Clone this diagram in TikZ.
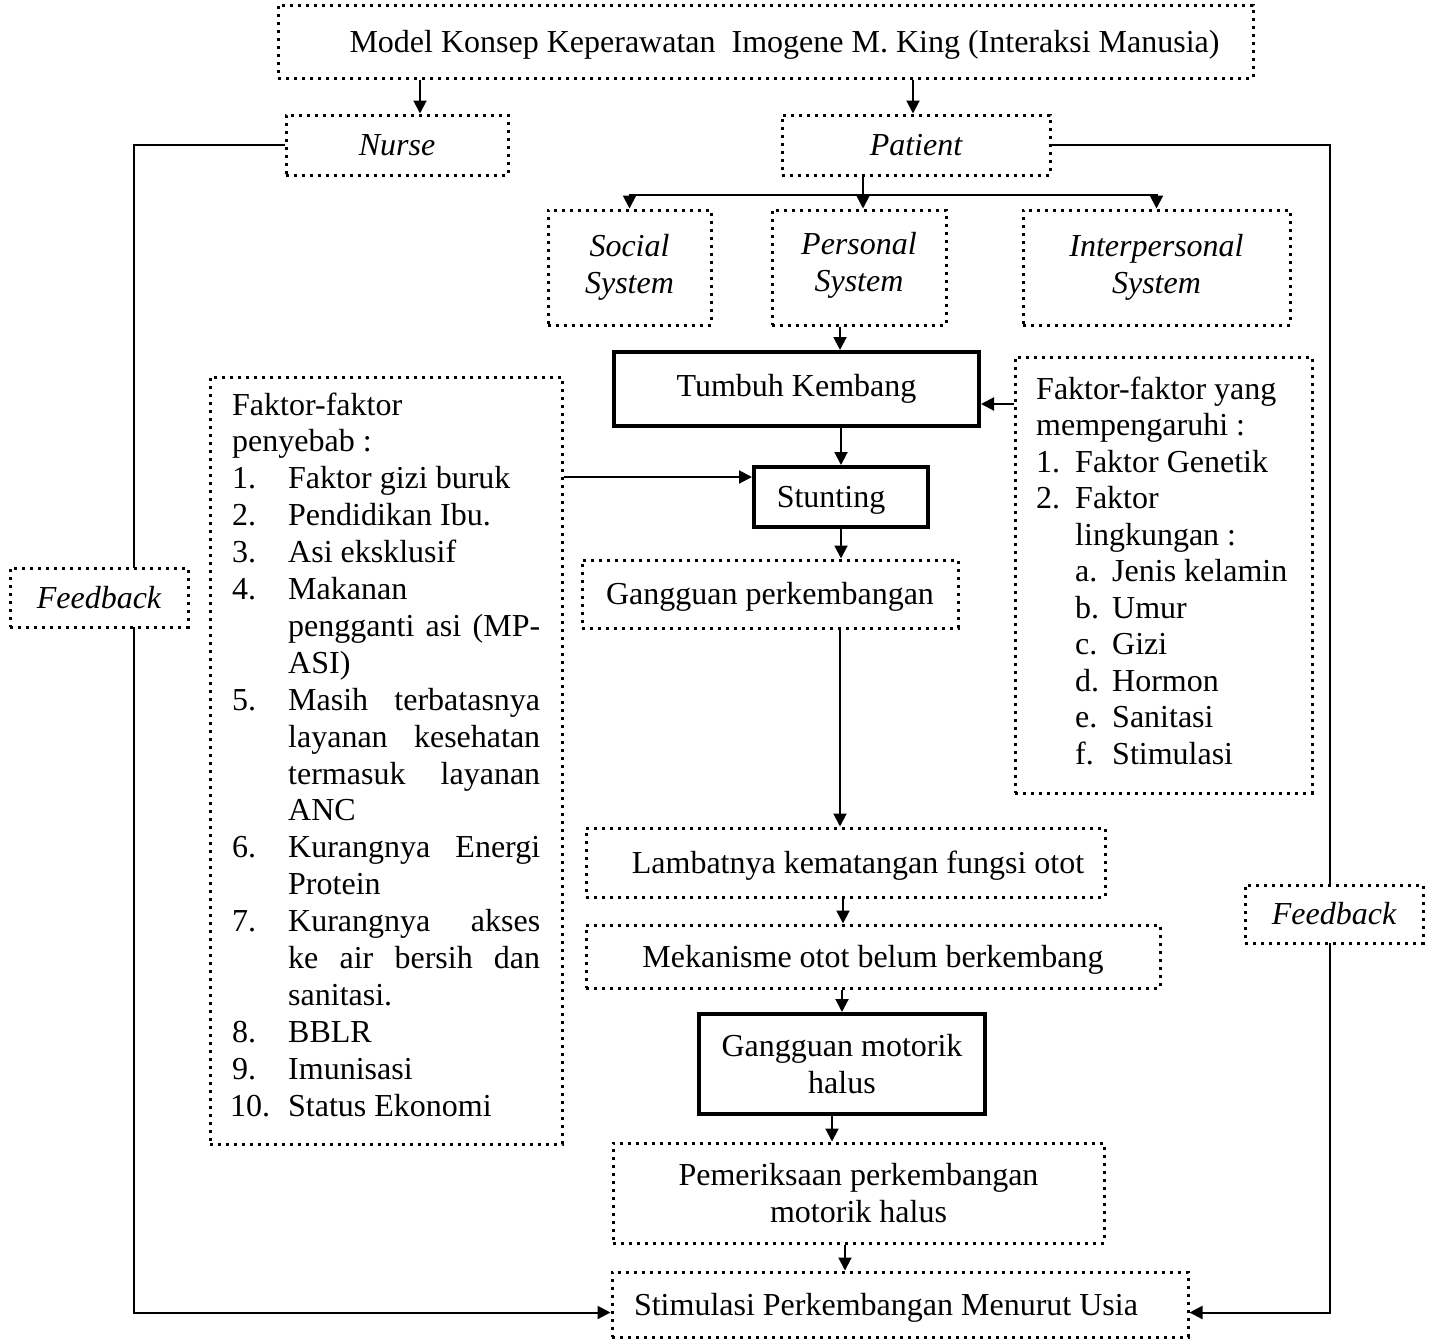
\documentclass[tikz,border=0pt]{standalone}
\usepackage{fontspec}
\setmainfont{Liberation Serif}
\usetikzlibrary{arrows.meta,calc}
\begin{document}
\begin{tikzpicture}[x=1pt,y=1pt,
  txt/.style={font=\fontsize{32}{37}\selectfont, inner sep=0pt},
  dbox/.style={draw, line width=3pt, dash pattern=on 3pt off 5pt, fill=white,
    font=\fontsize{32}{37}\selectfont, inner sep=0pt, align=center,
    text height=25pt, text depth=4pt},
  sbox/.style={draw, line width=4pt, fill=white,
    font=\fontsize{32}{37}\selectfont, inner sep=0pt, align=center,
    text height=25pt, text depth=4pt},
  multi/.style={text height=, text depth=},
  conn/.style={line width=2pt},
  arr/.style={line width=2pt, -{Triangle[length=13pt,width=13pt]}},
  lt/.style={txt, anchor=base west}
]
\useasboundingbox (0,0) rectangle (1432,-1339);

\node[dbox, minimum width=975, minimum height=73] (top) at (765.5,-41.5) {\hspace*{38pt}Model Konsep Keperawatan\ \ Imogene M. King (Interaksi Manusia)};
\node[dbox, minimum width=222, minimum height=60] (nurse) at (397,-145) {\itshape Nurse};
\node[dbox, minimum width=268, minimum height=60] (patient) at (916,-145) {\itshape Patient};
\node[dbox, minimum width=576, minimum height=65] (stim) at (900,-1304.5) {\hspace*{-28pt}Stimulasi Perkembangan Menurut Usia};

\draw[arr] (nurse.west) -- ++(-151,0) |- ([yshift=-8pt]stim.west);
\draw[arr] (patient.east) -- ++(278,0) |- ([yshift=-8pt]stim.east);

\node[dbox, minimum width=178, minimum height=59] (fbl) at (99,-597.5) {\itshape Feedback};
\node[dbox, minimum width=178, minimum height=58] (fbr) at (1334,-914) {\itshape Feedback};

\draw[arr] ([xshift=-345.5pt]top.south) -- ([xshift=23pt]nurse.north);
\draw[arr] ([xshift=147.5pt]top.south) -- ([xshift=-3pt]patient.north);

% systems
\node[dbox, multi, minimum width=163, minimum height=115] (social) at (629.5,-267.5) {\itshape Social\\\itshape System};
\node[dbox, multi, minimum width=174, minimum height=115] (personal) at (859,-267.5) {\itshape Personal\\\itshape System\rule[-12pt]{0pt}{1pt}};
\node[dbox, multi, minimum width=267, minimum height=115] (inter) at (1156.5,-267.5) {\itshape Interpersonal\\\itshape System};

\draw[conn] ([xshift=-53pt]patient.south) -- ++(0,-18) coordinate (pb);
\draw[arr] (pb) -| (social.north);
\draw[arr] (pb) -| (inter.north);
\draw[arr] (pb) -- (pb |- personal.north);

% central chain
\node[sbox, minimum width=365, minimum height=74] (tumbuh) at (796.5,-389) {\raisebox{3pt}{Tumbuh Kembang}};
\node[sbox, minimum width=174, minimum height=60] (stunting) at (841,-497) {\hspace*{-20pt}Stunting};
\node[dbox, minimum width=376, minimum height=68] (gp) at (770,-594) {Gangguan perkembangan};
\node[dbox, minimum width=519, minimum height=69] (lam) at (845.5,-862.5) {\hspace*{25pt}Lambatnya kematangan fungsi otot};
\node[dbox, minimum width=574, minimum height=63] (mek) at (873,-956.5) {Mekanisme otot belum berkembang};
\node[sbox, multi, minimum width=286, minimum height=100] (gm) at (842,-1064) {Gangguan motorik\\halus};
\node[dbox, multi, minimum width=491, minimum height=100] (pem) at (858.5,-1193) {Pemeriksaan perkembangan\\motorik halus};

\draw[arr] ([xshift=-19pt]personal.south) -- ([xshift=43.5pt]tumbuh.north);
\draw[arr] (stunting.north |- tumbuh.south) -- (stunting.north);
\draw[arr] (stunting.south) -- (stunting.south |- gp.north);
\coordinate (c1) at ([xshift=70pt]gp.south);
\draw[arr] (c1) -- (c1 |- lam.north);
\coordinate (c2) at ([xshift=-2.5pt]lam.south);
\draw[arr] (c2) -- (c2 |- mek.north);
\draw[arr] (gm.north |- mek.south) -- (gm.north);
\coordinate (c3) at ([xshift=-10pt]gm.south);
\draw[arr] (c3) -- (c3 |- pem.north);
\coordinate (c4) at ([xshift=-13.5pt]pem.south);
\draw[arr] (c4) -- (c4 |- stim.north);

% right factor box
\node[dbox, minimum width=297, minimum height=436] (rbox) at (1163.5,-575) {};
\coordinate (t1) at ([yshift=-15pt]tumbuh.east);
\draw[arr] (t1 -| rbox.west) -- (t1);
\node[lt] (r1) at (1036,-399) {Faktor-faktor yang};
\node[lt] (r2) at (1036,-435.5) {mempengaruhi :};
\node[lt] (r3n) at (1036,-472) {1.};
\node[lt] (r3) at (1075,-472) {Faktor Genetik};
\node[lt] (r4n) at (1036,-508.5) {2.};
\node[lt] (r4) at (1075,-508.5) {Faktor};
\node[lt] (r5) at (1075,-545) {lingkungan :};
\node[lt] (r6n) at (1075,-581.5) {a.};
\node[lt] (r6) at (1112,-581.5) {Jenis kelamin};
\node[lt] (r7n) at (1075,-618) {b.};
\node[lt] (r7) at (1112,-618) {Umur};
\node[lt] (r8n) at (1075,-654.5) {c.};
\node[lt] (r8) at (1112,-654.5) {Gizi};
\node[lt] (r9n) at (1075,-691) {d.};
\node[lt] (r9) at (1112,-691) {Hormon};
\node[lt] (r10n) at (1075,-727.5) {e.};
\node[lt] (r10) at (1112,-727.5) {Sanitasi};
\node[lt] (r11n) at (1075,-764) {f.};
\node[lt] (r11) at (1112,-764) {Stimulasi};

% left factor box
\node[dbox, minimum width=352, minimum height=767] (lbox) at (386,-760.5) {};
\coordinate (s1) at ([yshift=20pt]stunting.west);
\draw[arr] (s1 -| lbox.east) -- (s1);
\node[lt] (l1) at (232,-415) {Faktor-faktor};
\node[lt] (l2) at (232,-451.9) {penyebab :};
\node[lt] (l3n) at (232,-488.8) {1.};
\node[lt] (l3) at (288,-488.8) {Faktor gizi buruk};
\node[lt] (l4n) at (232,-525.7) {2.};
\node[lt] (l4) at (288,-525.7) {Pendidikan Ibu.};
\node[lt] (l5n) at (232,-562.6) {3.};
\node[lt] (l5) at (288,-562.6) {Asi eksklusif};
\node[lt] (l6n) at (232,-599.5) {4.};
\node[lt] (l6) at (288,-599.5) {Makanan};
\node[lt] (l7) at (288,-636.4) {\makebox[252pt][s]{pengganti asi (MP-}};
\node[lt] (l8) at (288,-673.3) {ASI)};
\node[lt] (l9n) at (232,-710.2) {5.};
\node[lt] (l9) at (288,-710.2) {\makebox[252pt][s]{Masih terbatasnya}};
\node[lt] (l10) at (288,-747.1) {\makebox[252pt][s]{layanan kesehatan}};
\node[lt] (l11) at (288,-784) {\makebox[252pt][s]{termasuk layanan}};
\node[lt] (l12) at (288,-820.9) {ANC};
\node[lt] (l13n) at (232,-857.8) {6.};
\node[lt] (l13) at (288,-857.8) {\makebox[252pt][s]{Kurangnya Energi}};
\node[lt] (l14) at (288,-894.7) {Protein};
\node[lt] (l15n) at (232,-931.6) {7.};
\node[lt] (l15) at (288,-931.6) {\makebox[252pt][s]{Kurangnya akses}};
\node[lt] (l16) at (288,-968.5) {\makebox[252pt][s]{ke air bersih dan}};
\node[lt] (l17) at (288,-1005.4) {sanitasi.};
\node[lt] (l18n) at (232,-1042.3) {8.};
\node[lt] (l18) at (288,-1042.3) {BBLR};
\node[lt] (l19n) at (232,-1079.2) {9.};
\node[lt] (l19) at (288,-1079.2) {Imunisasi};
\node[lt] (l20n) at (230,-1116.1) {10.};
\node[lt] (l20) at (288,-1116.1) {Status Ekonomi};
\end{tikzpicture}
\end{document}
